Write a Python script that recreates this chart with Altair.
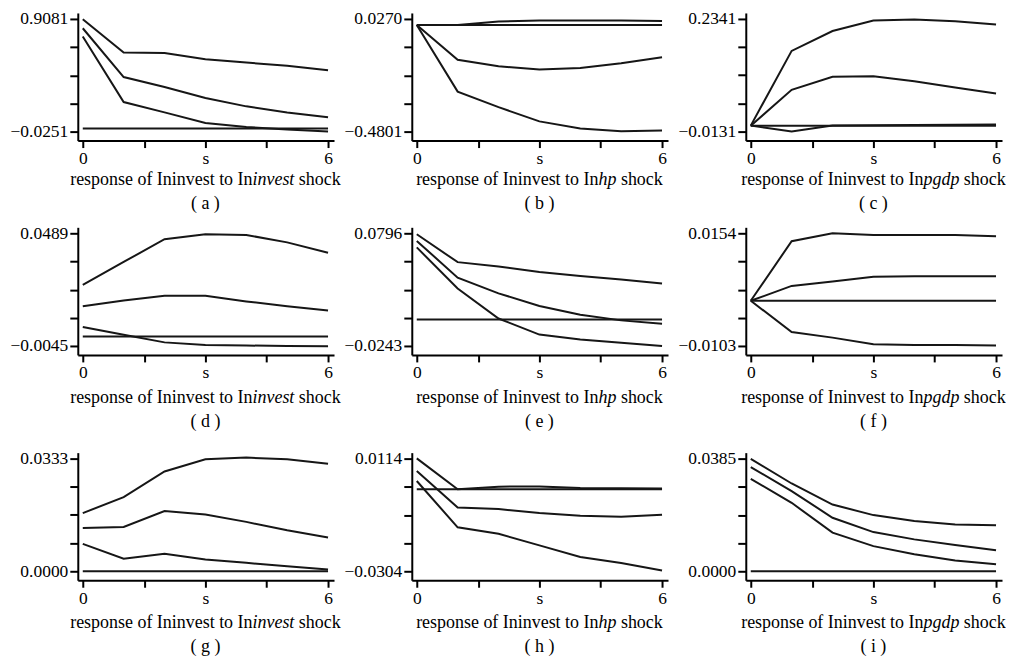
import altair as alt
import pandas as pd

# ---------------- data ----------------
S = [0, 1, 2, 3, 4, 5, 6]
ZERO = [0, 0, 0, 0, 0, 0, 0]

a_upper = [0.906, 0.630, 0.625, 0.575, 0.547, 0.520, 0.484]
a_irf = [0.831, 0.427, 0.344, 0.253, 0.184, 0.134, 0.093]
a_lower = [0.762, 0.220, 0.134, 0.047, 0.014, -0.008, -0.025]

b_upper = [0.0, 0.0, 0.0152, 0.0196, 0.0196, 0.0196, 0.0182]
b_irf = [0.0, -0.157, -0.186, -0.201, -0.194, -0.172, -0.145]
b_lower = [0.0, -0.300, -0.370, -0.434, -0.466, -0.479, -0.475]

c_upper = [0.0, 0.164, 0.2076, 0.2305, 0.2327, 0.229, 0.2219]
c_irf = [0.0, 0.0785, 0.1072, 0.1086, 0.0972, 0.0835, 0.0706]
c_lower = [0.0, -0.0131, 0.0003, 0.0008, 0.0013, 0.0018, 0.0024]

d_upper = [0.0244, 0.0353, 0.0461, 0.0484, 0.0481, 0.0446, 0.0397]
d_irf = [0.0143, 0.0171, 0.0193, 0.0193, 0.0166, 0.0143, 0.0123]
d_lower = [0.0045, 0.0008, -0.0028, -0.0040, -0.0043, -0.0045, -0.0046]

e_upper = [0.0787, 0.0530, 0.0490, 0.0439, 0.0402, 0.0369, 0.0332]
e_irf = [0.0726, 0.0387, 0.0242, 0.0126, 0.0044, -0.0007, -0.0038]
e_lower = [0.0666, 0.0287, 0.0010, -0.0138, -0.0183, -0.0213, -0.0243]

f_upper = [0.0, 0.0136, 0.0154, 0.0150, 0.0150, 0.0150, 0.0147]
f_irf = [0.0, 0.0034, 0.0044, 0.0055, 0.0056, 0.0056, 0.0056]
f_lower = [0.0, -0.0071, -0.0084, -0.0099, -0.0101, -0.0101, -0.0102]

g_upper = [0.0172, 0.0219, 0.0295, 0.0331, 0.0336, 0.0331, 0.0318]
g_irf = [0.0128, 0.0131, 0.0178, 0.0168, 0.0146, 0.0121, 0.0100]
g_lower = [0.0081, 0.0037, 0.0052, 0.0035, 0.0025, 0.0015, 0.0005]

h_upper = [0.0115, 0.0, 0.0010, 0.0011, 0.0005, 0.0004, 0.0003]
h_irf = [0.0068, -0.0067, -0.0073, -0.0088, -0.0098, -0.0102, -0.0094]
h_lower = [0.0031, -0.0141, -0.0165, -0.0208, -0.0251, -0.0273, -0.0301]

i_upper = [0.0384, 0.0300, 0.0228, 0.0192, 0.0172, 0.0160, 0.0157]
i_irf = [0.0356, 0.0274, 0.0183, 0.0134, 0.0109, 0.0090, 0.0072]
i_lower = [0.0316, 0.0234, 0.0132, 0.0086, 0.0058, 0.0037, 0.0024]

Y_TOP = [0.9081, 0.0270, 0.2341, 0.0489, 0.0796, 0.0154, 0.0333, 0.0114, 0.0385]
Y_BOTTOM = [-0.0251, -0.4801, -0.0131, -0.0045, -0.0243, -0.0103, 0.0000, -0.0304, 0.0000]
Y_TOP_LABELS = ["0.9081", "0.0270", "0.2341", "0.0489", "0.0796", "0.0154", "0.0333", "0.0114", "0.0385"]
Y_BOTTOM_LABELS = ["\u22120.0251", "\u22120.4801", "\u22120.0131", "\u22120.0045", "\u22120.0243",
                   "\u22120.0103", "0.0000", "\u22120.0304", "0.0000"]

X_TICKS = [0, 1.5, 3, 4.5, 6]
X_TICK_LABELS = ["0", "", "s", "", "6"]

SHOCKS = ["invest", "hp", "pgdp"]
LETTERS = ["a", "b", "c", "d", "e", "f", "g", "h", "i"]
CAPTION_PREFIX = "response of Ininvest to In"
CAPTION_SUFFIX = "shock"

SERIES = [
    (a_upper, a_irf, a_lower), (b_upper, b_irf, b_lower), (c_upper, c_irf, c_lower),
    (d_upper, d_irf, d_lower), (e_upper, e_irf, e_lower), (f_upper, f_irf, f_lower),
    (g_upper, g_irf, g_lower), (h_upper, h_irf, h_lower), (i_upper, i_irf, i_lower),
]

# ---------------- layout / style ----------------
SERIF = "Liberation Serif"
W, H = 257, 128
PX_PER_S = 41.0
X_LEFT_PAD, X_RIGHT_PAD = 5.0, 6.0
TOP_PAD, BOTTOM_PAD = 6.0, 9.0
X_DOMAIN = [-X_LEFT_PAD / PX_PER_S, 6 + X_RIGHT_PAD / PX_PER_S]
CAP_FS = 18
TICK_FS = 17.5
CAP_DY = [40, 43, 43]
LET_DY = [64, 67, 67]
LINE_COLOR = "#161616"

# approximate Times-metric widths (em) for placing the italic part of captions
PREFIX_EM = 10.165
ITALIC_EM = {"invest": 2.333, "hp": 1.0, "pgdp": 2.0}
SPACE_EM = 0.25
SUFFIX_EM = 2.333

x_parts = []
for v, lab in zip(X_TICKS, X_TICK_LABELS):
    if lab:
        x_parts.append(f"datum.value == {v} ? '{lab}'")
X_LABEL_EXPR = " : ".join(x_parts) + " : ''"

AXIS_STYLE = dict(
    title=None, domainColor="black", tickColor="black", labelColor="black",
    labelFont=SERIF, labelFontSize=TICK_FS, grid=False, domainWidth=2,
    tickWidth=2, labelOverlap=False, labelFlush=False, labelPadding=2,
)


def one_text(txt, **kw):
    return alt.Chart(pd.DataFrame({"t": [txt]})).mark_text(
        font=SERIF, color="black", baseline="middle", **kw
    )


def make_panel(idx):
    upper, irf, lower = SERIES[idx]
    row = idx // 3
    top, bot = Y_TOP[idx], Y_BOTTOM[idx]
    k = (top - bot) / (H - TOP_PAD - BOTTOM_PAD)
    y_domain = [bot - BOTTOM_PAD * k, top + TOP_PAD * k]
    y_ticks = [bot + j * (top - bot) / 4 for j in range(5)]
    eps = k / 10
    y_expr = (f"abs(datum.value - ({top})) < {eps} ? '{Y_TOP_LABELS[idx]}' : "
              f"abs(datum.value - ({bot})) < {eps} ? '{Y_BOTTOM_LABELS[idx]}' : ''")

    df = pd.DataFrame({
        "s": S * 4,
        "v": upper + irf + lower + ZERO,
        "series": ["upper"] * 7 + ["irf"] * 7 + ["lower"] * 7 + ["zero"] * 7,
    })
    lines = alt.Chart(df).mark_line(color=LINE_COLOR, strokeWidth=2).encode(
        x=alt.X("s:Q", scale=alt.Scale(domain=X_DOMAIN, nice=False, zero=False),
                axis=alt.Axis(values=X_TICKS, labelExpr=X_LABEL_EXPR, tickSize=7, **AXIS_STYLE)),
        y=alt.Y("v:Q", scale=alt.Scale(domain=y_domain, nice=False, zero=False),
                axis=alt.Axis(values=y_ticks, labelExpr=y_expr, tickSize=8, **AXIS_STYLE)),
        detail="series:N",
    )

    shock = SHOCKS[idx % 3]
    f = CAP_FS
    total_em = PREFIX_EM + ITALIC_EM[shock] + SPACE_EM + SUFFIX_EM
    cx = X_LEFT_PAD + 3 * PX_PER_S
    p = cx - total_em * f / 2 + PREFIX_EM * f
    ycap = H + CAP_DY[row]

    cap_a = one_text(CAPTION_PREFIX, align="right", fontSize=f).encode(
        text="t:N", x=alt.value(p), y=alt.value(ycap))
    cap_b = one_text(shock, align="left", fontSize=f, fontStyle="italic").encode(
        text="t:N", x=alt.value(p), y=alt.value(ycap))
    cap_c = one_text(CAPTION_SUFFIX, align="left", fontSize=f).encode(
        text="t:N", x=alt.value(p + (ITALIC_EM[shock] + SPACE_EM) * f), y=alt.value(ycap))
    letter = one_text(f"( {LETTERS[idx]} )", align="center", fontSize=f).encode(
        text="t:N", x=alt.value(cx), y=alt.value(H + LET_DY[row]))

    return alt.layer(lines, cap_a, cap_b, cap_c, letter).properties(width=W, height=H)


panels = [make_panel(i) for i in range(9)]
rows = [alt.hconcat(*panels[r * 3:(r + 1) * 3], spacing=78, bounds="flush") for r in range(3)]

chart = alt.vconcat(
    alt.vconcat(rows[0], rows[1], spacing=11),
    rows[2], spacing=19,
).properties(
    padding={"left": 2, "top": 0, "right": 0, "bottom": 0}
).configure_view(stroke=None)

chart.save("out.html", embed_options={"renderer": "svg", "actions": False})
